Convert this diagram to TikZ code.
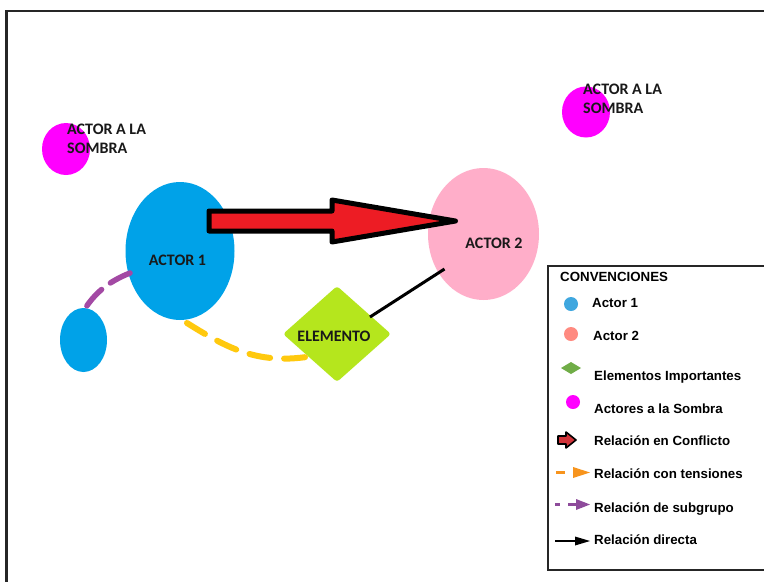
\documentclass[tikz,border=0pt]{standalone}
\usepackage{fontspec}
\setmainfont{Carlito}
\newfontfamily\legendfont{Liberation Sans}
\usetikzlibrary{shapes.geometric}

\definecolor{paintblue}{HTML}{00A2E8}
\definecolor{paintpink}{HTML}{FFAEC9}
\definecolor{paintmagenta}{HTML}{FF00FF}
\definecolor{paintlime}{HTML}{B5E61D}
\definecolor{paintred}{HTML}{ED1C24}
\definecolor{paintyellow}{HTML}{FFC90E}
\definecolor{paintpurple}{HTML}{A349A4}
\definecolor{keyblue}{HTML}{3FA7DF}
\definecolor{keysalmon}{HTML}{FF8A80}
\definecolor{keygreen}{HTML}{70AD47}
\definecolor{keyred}{HTML}{D1343A}
\definecolor{keyorange}{HTML}{F7941D}
\definecolor{keypurple}{HTML}{8E4B9B}

\begin{document}
\begin{tikzpicture}[x=1pt,y=-1pt,
  frameline/.style={draw=black!85, line width=2.2pt},
  blob/.style={ellipse, draw=none, inner sep=0pt},
  actorblob/.style={blob, fill=paintblue},
  actortwo/.style={blob, fill=paintpink},
  shadowblob/.style={blob, fill=paintmagenta},
  elemshape/.style={diamond, fill=paintlime, draw=none, inner sep=0pt,
    minimum width=108pt, minimum height=96pt, rounded corners=3pt},
  diagtext/.style={font=\fontsize{16}{19}\selectfont\bfseries, text=black!90, inner sep=0pt},
  conflictarrow/.style={draw=black, line width=5pt, fill=paintred, line join=round},
  tensionline/.style={draw=paintyellow, line width=6pt, line cap=round, dash pattern=on 21pt off 14pt},
  subgroupline/.style={draw=paintpurple, line width=5.5pt, line cap=round, dash pattern=on 22pt off 11pt},
  directline/.style={draw=black, line width=3pt},
  legendbox/.style={draw=black!85, line width=1.6pt},
  legendtext/.style={font=\legendfont\fontsize{13.3}{16}\selectfont\bfseries, anchor=base west, inner sep=0pt},
  keydot/.style={circle, inner sep=0pt, minimum size=14pt, draw=none},
]
\useasboundingbox (0,0) rectangle (764,582);
\fill[white] (0,0) rectangle (764,582);

% outer frame (open to the right and bottom)
\draw[frameline] (764,11) -- (6.5,11) -- (6.5,582);

% actors and element
\node[shadowblob, minimum width=48pt, minimum height=52pt] (shadowL) at (66,149) {};
\node[shadowblob, minimum width=48pt, minimum height=51pt] (shadowR) at (586,112) {};
\node[actorblob, minimum width=109pt, minimum height=138pt] (actor1) at (180,251) {};
\node[actorblob, minimum width=47pt, minimum height=64pt] (subactor) at (83.5,340) {};
\node[actortwo, minimum width=111pt, minimum height=132pt] (actor2) at (483.5,234) {};
\node[elemshape] (elem) at (337,334) {};

% relations
\coordinate (tail) at ([shift={(29,-30)}]actor1.center);
\coordinate (tip) at ([shift={(-28,-13)}]actor2.center);
\draw[conflictarrow] ([yshift=10pt]tail) -- ([xshift=123pt,yshift=10pt]tail)
  -- ([xshift=123pt,yshift=21pt]tail) -- (tip)
  -- ([xshift=123pt,yshift=-21pt]tail) -- ([xshift=123pt,yshift=-10pt]tail)
  -- ([yshift=-10pt]tail) -- cycle;
\draw[directline] ([shift={(-39,35)}]actor2.center) -- ([shift={(33,-17)}]elem.center);
\draw[tensionline] ([shift={(7,72)}]actor1.center) .. controls (230,350) and (260,365) .. ([shift={(-24,22)}]elem.center);
\draw[subgroupline] ([shift={(-50,22)}]actor1.center) .. controls (110,281) and (95,292) .. ([shift={(0,-29)}]subactor.center);

% labels
\node[diagtext] (actor1label) at (177.5,260.5) {ACTOR 1};
\node[diagtext] (actor2label) at (494,243) {ACTOR 2};
\node[diagtext] (elemlabel) at (334,336) {ELEMENTO};
\node[diagtext, anchor=base west] (shadowLa) at (67,134) {ACTOR A LA};
\node[diagtext, anchor=base west] (shadowLb) at (67,153) {SOMBRA};
\node[diagtext, anchor=base west] (shadowRa) at (583,94) {ACTOR A LA};
\node[diagtext, anchor=base west] (shadowRb) at (583,113) {SOMBRA};

% legend
\draw[legendbox] (764,266) -- (548,266) -- (548,570) -- (764,570);
\node[legendtext] (keytitle) at (560,281) {CONVENCIONES};

\node[keydot, fill=keyblue] (keyA1) at (571,304) {};
\node[legendtext] (keyA1t) at (592,307) {Actor 1};

\node[keydot, fill=keysalmon] (keyA2) at (571,334) {};
\node[legendtext] (keyA2t) at (593,340) {Actor 2};

\fill[keygreen] (561,368) -- (571,362) -- (581,368) -- (571,374) -- cycle;
\node[legendtext] (keyEl) at (594,380) {Elementos Importantes};

\node[keydot, fill=paintmagenta] (keySh) at (573,402) {};
\node[legendtext] (keyShT) at (594,413) {Actores a la Sombra};

\draw[fill=keyred, draw=black, line width=1.6pt, line join=round]
  (558,436) -- (566,436) -- (566,432) -- (576,440) -- (566,448) -- (566,444) -- (558,444) -- cycle;
\node[legendtext] (keyCo) at (594,445) {Relación en Conflicto};

\draw[keyorange, line width=3pt] (556,472.5) -- (565,472.5);
\fill[keyorange] (573,467) -- (590,472.5) -- (573,478) -- cycle;
\node[legendtext] (keyTe) at (594,478) {Relación con tensiones};

\draw[keypurple, line width=3pt] (555,504.5) -- (560,504.5);
\draw[keypurple, line width=3pt] (568,504.5) -- (578,504.5);
\fill[keypurple] (576,499) -- (590,504.5) -- (576,510) -- cycle;
\node[legendtext] (keySu) at (594,512) {Relación de subgrupo};

\draw[black, line width=1.5pt] (555,541) -- (580,541);
\fill[black] (575,536.5) -- (590,541) -- (575,545.5) -- cycle;
\node[legendtext] (keyDi) at (594,544) {Relación directa};
\end{tikzpicture}
\end{document}
